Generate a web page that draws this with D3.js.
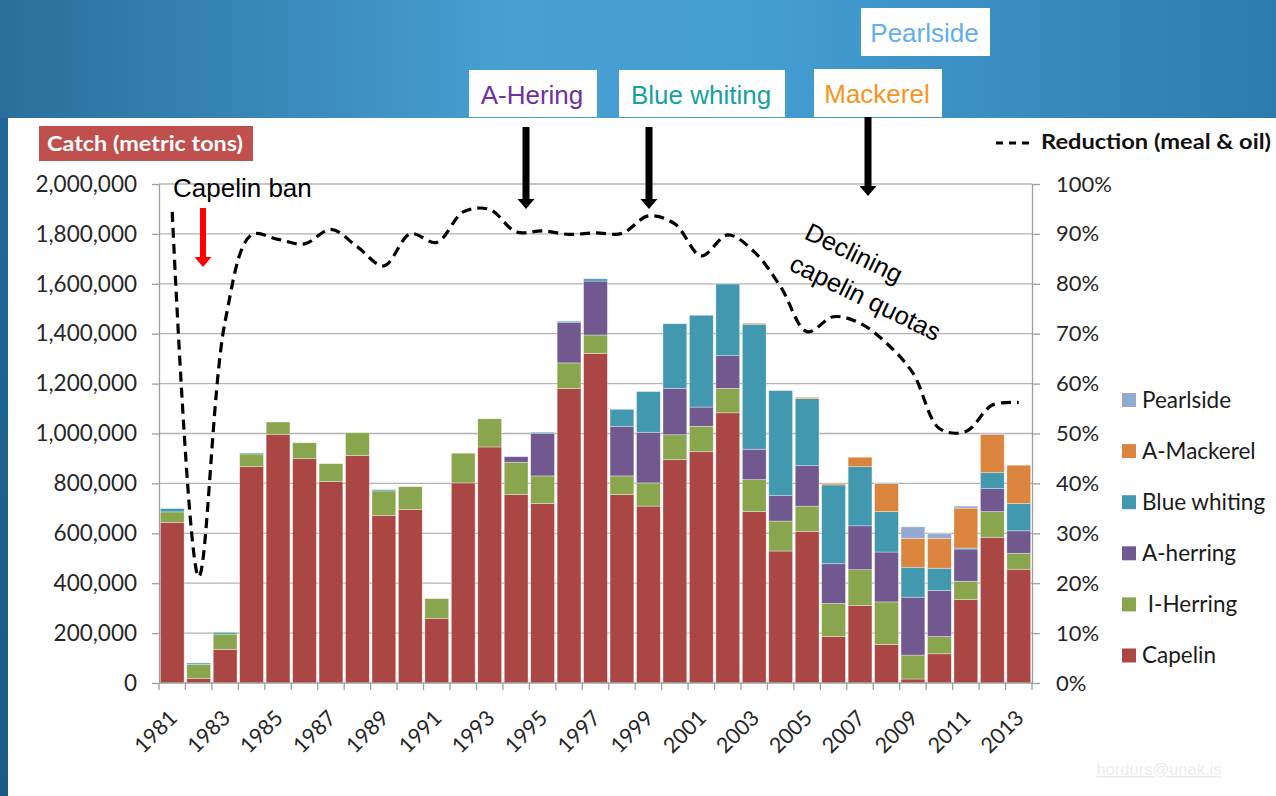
<!DOCTYPE html>
<html><head><meta charset="utf-8">
<script src="https://cdn.jsdelivr.net/npm/d3@7"></script>
<style>html,body{margin:0;padding:0;background:#fff;}svg{display:block;}</style>
</head><body>
<svg id="chart" width="1276" height="796"></svg>
<script>
const years = [1981,1982,1983,1984,1985,1986,1987,1988,1989,1990,1991,1992,1993,1994,1995,1996,1997,1998,1999,2000,2001,2002,2003,2004,2005,2006,2007,2008,2009,2010,2011,2012,2013];
const tickYears = [1981,1983,1985,1987,1989,1991,1993,1995,1997,1999,2001,2003,2005,2007,2009,2011,2013];
// catch in metric tons
const capelin     = [644000,19000,135000,867000,997000,899000,807000,912000,672000,696000,259000,802000,946000,755000,719000,1181000,1321000,755000,709000,895000,927000,1083000,687000,529000,608000,186000,311000,154000,16000,117000,334000,584000,456000];
const iHerring    = [42000,56000,61000,51000,49000,64000,72000,91000,98000,91000,79000,119000,113000,130000,111000,102000,74000,75000,93000,100000,102000,98000,128000,120000,101000,133000,143000,171000,96000,69000,74000,103000,64000];
const aHerring    = [0,0,0,0,0,0,0,0,0,0,0,0,0,22000,171000,163000,216000,199000,203000,186000,77000,131000,122000,102000,162000,159000,176000,200000,232000,185000,129000,92000,90000];
const blueWhiting = [13000,5000,7000,4000,0,0,0,0,5000,0,0,0,0,0,4000,4000,9000,68000,163000,259000,368000,287000,501000,421000,269000,316000,237000,162000,120000,89000,4000,64000,109000];
const aMackerel   = [0,0,0,0,0,0,0,0,0,0,0,0,0,0,0,0,0,0,0,0,0,0,4000,0,5000,5000,38000,112000,116000,120000,160000,154000,154000];
const pearlside   = [0,0,0,0,0,0,0,0,0,0,0,0,0,0,0,0,0,0,0,0,0,0,0,0,0,0,0,4000,46000,18000,8000,4000,0];
// share of catch going to reduction (meal & oil), percent
const reduction   = [94.4,21.3,72.5,89.8,88.9,88.0,90.9,87.4,83.6,90.0,88.3,94.4,94.9,90.4,90.6,89.9,90.2,90.1,93.6,92.0,85.6,89.8,86.4,79.4,70.4,73.4,72.1,68.1,62.1,51.0,50.4,55.7,56.2];
const leftTicks  = [0,200000,400000,600000,800000,1000000,1200000,1400000,1600000,1800000,2000000];
const rightTicks = [0,10,20,30,40,50,60,70,80,90,100];

const seriesNames  = ["Capelin"," I-Herring","A-herring","Blue whiting","A-Mackerel","Pearlside"];
const seriesKeys   = ["capelin","iHerring","aHerring","blueWhiting","aMackerel","pearlside"];
const seriesColors = ["#aa4643","#89a54e","#71588f","#4198af","#db843d","#93a9cf"];
const seriesData   = [capelin,iHerring,aHerring,blueWhiting,aMackerel,pearlside];

const table = years.map((yr,i)=>{const o={year:yr}; seriesKeys.forEach((k,j)=>o[k]=seriesData[j][i]); o.red=reduction[i]; return o;});

const svg = d3.select("#chart");
const defs = svg.append("defs");
const g1 = defs.append("linearGradient").attr("id","bg").attr("x1","0").attr("x2","1").attr("y1","0").attr("y2","0");
g1.append("stop").attr("offset","0").attr("stop-color","#2a6e9c");
g1.append("stop").attr("offset","0.4").attr("stop-color","#479fd2");
g1.append("stop").attr("offset","0.6").attr("stop-color","#449dd1");
g1.append("stop").attr("offset","1").attr("stop-color","#2e7bad");
const g2 = defs.append("linearGradient").attr("id","strip").attr("x1","0").attr("x2","0").attr("y1","0").attr("y2","1");
g2.append("stop").attr("offset","0").attr("stop-color","#21689a");
g2.append("stop").attr("offset","1").attr("stop-color","#1a5a84");

svg.append("rect").attr("x",0).attr("y",0).attr("width",1276).attr("height",796).attr("fill","url(#bg)");
svg.append("rect").attr("x",0).attr("y",118).attr("width",8).attr("height",678).attr("fill","url(#strip)");
svg.append("rect").attr("x",8).attr("y",118).attr("width",1268).attr("height",678).attr("fill","#ffffff");

const L=159, R=1032, T=184, B=683;
const x = d3.scaleBand().domain(years).range([L,R]).paddingInner(0.1).paddingOuter(0.05);
const y = d3.scaleLinear().domain([0,2000000]).range([B,T]);
const yp = d3.scaleLinear().domain([0,100]).range([B,T]);

// gridlines
svg.append("g").selectAll("line").data(leftTicks.filter(d=>d>0)).join("line")
  .attr("x1",L).attr("x2",R).attr("y1",d=>y(d)).attr("y2",d=>y(d))
  .attr("stroke","#b3b3b3").attr("stroke-width",1.3);

// bars
const stack = d3.stack().keys(seriesKeys)(table);
svg.append("g").selectAll("g").data(stack).join("g")
  .attr("fill",(d,i)=>seriesColors[i])
  .selectAll("rect").data(d=>d.filter(s=>s[1]-s[0]>0)).join("rect")
  .attr("x",d=>x(d.data.year)).attr("width",x.bandwidth())
  .attr("y",d=>y(d[1])).attr("height",d=>y(d[0])-y(d[1]))
  .attr("stroke","#ffffff").attr("stroke-opacity",0.5).attr("stroke-width",0.7);

const fontNum = "Lato, 'Open Sans', sans-serif";
// left axis
const ax = svg.append("g").attr("transform",`translate(${L},0)`)
  .call(d3.axisLeft(y).tickValues(leftTicks).tickSize(7).tickSizeOuter(0).tickPadding(15).tickFormat(d3.format(",")));
ax.selectAll("path,line").attr("stroke","#9e9e9e").attr("stroke-width",1.3);
ax.selectAll("text").attr("font-family",fontNum).attr("font-size",22.5).attr("fill","#262626");
// right axis
const ar = svg.append("g").attr("transform",`translate(${R},0)`)
  .call(d3.axisRight(yp).tickValues(rightTicks).tickSize(8).tickSizeOuter(0).tickPadding(16).tickFormat(d=>d+"%"));
ar.selectAll("path,line").attr("stroke","#9e9e9e").attr("stroke-width",1.3);
ar.selectAll("text").attr("font-family",fontNum).attr("font-size",22).attr("fill","#262626");
// bottom axis
svg.append("line").attr("x1",L).attr("x2",R).attr("y1",B).attr("y2",B).attr("stroke","#9e9e9e").attr("stroke-width",1.3);
const bounds = d3.range(years.length+1).map(i=>L + i*x.step());
svg.append("g").selectAll("line").data(bounds).join("line")
  .attr("x1",d=>d).attr("x2",d=>d).attr("y1",B).attr("y2",B+7).attr("stroke","#9e9e9e").attr("stroke-width",1.3);
svg.append("g").selectAll("text").data(tickYears).join("text")
  .attr("transform",d=>`translate(${x(d)+x.bandwidth()/2+1},${B+31}) rotate(-45)`)
  .attr("text-anchor","end").attr("dy","0.35em")
  .attr("font-family",fontNum).attr("font-size",21.5).attr("fill","#262626").text(d=>d);

// reduction line
const line = d3.line().x(d=>x(d.year)+x.bandwidth()/2).y(d=>yp(d.red)).curve(d3.curveCatmullRom.alpha(0.5));
svg.append("path").datum(table).attr("d",line).attr("fill","none").attr("stroke","#000")
  .attr("stroke-width",3.2).attr("stroke-dasharray","10,6");

// legend
const lg = svg.append("g");
const legendOrder = [5,4,3,2,1,0];
legendOrder.forEach((si,k)=>{
  const yy = 400 + k*51.1;
  lg.append("rect").attr("x",1122).attr("y",yy-7).attr("width",14).attr("height",14).attr("fill",seriesColors[si]);
  lg.append("text").attr("x",1142).attr("y",yy).attr("dy","0.35em").attr("font-family",fontNum).attr("font-size",22.5)
    .attr("fill","#1a1a1a").attr("xml:space","preserve").style("white-space","pre").text(seriesNames[si]);
});
svg.append("line").attr("x1",996).attr("x2",1032).attr("y1",143).attr("y2",143).attr("stroke","#000").attr("stroke-width",3).attr("stroke-dasharray","7,6");
svg.append("text").attr("x",1041).attr("y",141).attr("dy","0.35em").attr("font-family",fontNum).attr("font-weight","bold")
  .attr("font-size",21.5).attr("fill","#111").attr("textLength",230).attr("lengthAdjust","spacingAndGlyphs").text("Reduction (meal & oil)");

// left title box
svg.append("rect").attr("x",39).attr("y",126).attr("width",214).attr("height",35).attr("fill","#c0504d");
svg.append("text").attr("x",47).attr("y",144).attr("dy","0.35em").attr("font-family",fontNum)
  .attr("font-weight","bold").attr("font-size",20.5).attr("fill","#fff").attr("textLength",196).attr("lengthAdjust","spacingAndGlyphs").text("Catch (metric tons)");

// header boxes
const ann = "'Liberation Sans', Arial, sans-serif";
const boxes = [
  {t:"A-Hering",x:469,y:70,w:128,h:47,c:"#7030a0"},
  {t:"Blue whiting",x:619,y:70,w:166,h:47,c:"#17a0a0"},
  {t:"Mackerel",x:814,y:69,w:128,h:48,c:"#f7941d"},
  {t:"Pearlside",x:861,y:8,w:129,h:48,c:"#62aef0"}
];
boxes.forEach(b=>{
  svg.append("rect").attr("x",b.x).attr("y",b.y).attr("width",b.w).attr("height",b.h).attr("fill","#fff");
  svg.append("text").attr("x",b.x+b.w/2-1).attr("y",b.y+b.h/2+1).attr("dy","0.35em").attr("text-anchor","middle")
    .attr("font-family",ann).attr("font-size",26).attr("fill",b.c).text(b.t);
});

// arrows
function arrow(cx,y0,y1,color,sw,hw,hl){
  svg.append("rect").attr("x",cx-sw/2).attr("y",y0).attr("width",sw).attr("height",y1-hl-y0+1).attr("fill",color);
  svg.append("path").attr("d",`M${cx-hw/2},${y1-hl} L${cx+hw/2},${y1-hl} L${cx},${y1} Z`).attr("fill",color);
}
arrow(526,127,209,"#000",7,17,10);
arrow(649,127,209,"#000",7,17,10);
arrow(868,117,196,"#000",7,17,10);
arrow(203,208,267,"#ff0000",6,17,10);

svg.append("text").attr("x",173).attr("y",197).attr("font-family",ann).attr("font-size",26).attr("fill","#000").text("Capelin ban");
const dg = svg.append("g").attr("transform","translate(803,238) rotate(26)");
dg.append("text").attr("x",0).attr("y",0).attr("font-family",ann).attr("font-size",25.5).attr("fill","#000").text("Declining");
dg.append("text").attr("x",0).attr("y",35).attr("font-family",ann).attr("font-size",25.5).attr("fill","#000").text("capelin quotas");

svg.append("text").attr("x",1159).attr("y",775).attr("text-anchor","middle").attr("font-family",ann).attr("font-size",16.5)
  .attr("fill","#ececec").attr("text-decoration","underline").text("hordurs@unak.is");
</script>
</body></html>
